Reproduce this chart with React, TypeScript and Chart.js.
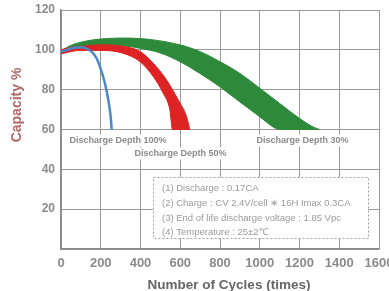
import { useEffect, useRef } from 'react';
import { Chart, registerables } from 'chart.js';

Chart.register(...registerables);

// ---- data ----
const xTickValues = [0, 200, 400, 600, 800, 1000, 1200, 1400, 1600];
const yTickValues = [20, 40, 60, 80, 100, 120];

const depth100Cycles = [0, 30, 65, 104, 135, 162, 180, 196, 221, 238, 250, 255];
const depth100Capacity = [99, 100, 101, 101.3, 100.3, 98.3, 95.5, 91.6, 83.2, 74.8, 66.4, 60];

const depth50UpperCycles = [0, 50, 95, 196, 297, 397, 464, 531, 590, 632, 648];
const depth50UpperCapacity = [100, 101.3, 101.7, 102.5, 102, 99.2, 93.3, 84.9, 74.8, 66.4, 60];
const depth50LowerCycles = [0, 95, 196, 297, 397, 464, 514, 548, 561, 648];
const depth50LowerCapacity = [98, 99.7, 99.7, 98.7, 94.1, 86.6, 78.2, 69.7, 60, 60];

const depth30UpperCycles = [0, 45, 95, 196, 330, 464, 598, 698, 799, 899, 1000, 1100, 1201, 1268, 1301];
const depth30UpperCapacity = [99.5, 102, 103.7, 105.4, 105.9, 105, 102.5, 99.2, 94.1, 88.2, 80.7, 73.1, 65.5, 61.3, 60];
const depth30LowerCycles = [0, 200, 300, 397, 503, 598, 698, 799, 899, 1000, 1067, 1100, 1301];
const depth30LowerCapacity = [99, 101.5, 102, 100.8, 98.3, 94.1, 88.2, 81.5, 73.9, 66.4, 61.3, 60, 60];

const curveLabels = [
  { text: 'Discharge Depth 100%', x: 287, y: 54.5 },
  { text: 'Discharge Depth 50%', x: 601, y: 48 },
  { text: 'Discharge Depth 30%', x: 1215, y: 54.5 },
];

const noteLines = [
  '(1) Discharge : 0.17CA',
  '(2) Charge : CV 2.4V/cell \u2217 16H Imax 0.3CA',
  '(3) End of life discharge voltage : 1.85 Vpc',
  '(4) Temperature : 25\u00b12\u2103',
];
const noteBox = { x0: 463, x1: 1545, y0: 36, y1: 5.5, textX: 508 };
const noteLineY = [30.5, 23, 15.5, 8.5];

const xTitle = 'Number of Cycles (times)';
const yTitle = 'Capacity %';

const BLUE = '#4a88c8';
const RED = '#dd2323';
const GREEN = '#2d8a3a';

function pts(xs: number[], ys: number[]) {
  return xs.map((x, i) => ({ x, y: ys[i] }));
}

const overlayPlugin = {
  id: 'overlay',
  afterDatasetsDraw(chart: any) {
    const { ctx, scales } = chart;
    const xs = scales.x;
    const ys = scales.y;
    ctx.save();
    ctx.font = 'bold 9px "Liberation Sans", Arial, sans-serif';
    ctx.textAlign = 'center';
    ctx.textBaseline = 'middle';
    for (const l of curveLabels) {
      const px = xs.getPixelForValue(l.x);
      const py = ys.getPixelForValue(l.y);
      const w = ctx.measureText(l.text).width;
      ctx.fillStyle = '#ffffff';
      ctx.fillRect(px - w / 2 - 2, py - 6, w + 4, 12);
      ctx.fillStyle = '#8a8a8a';
      ctx.fillText(l.text, px, py);
    }
    const bx0 = xs.getPixelForValue(noteBox.x0);
    const bx1 = xs.getPixelForValue(noteBox.x1);
    const by0 = ys.getPixelForValue(noteBox.y0);
    const by1 = ys.getPixelForValue(noteBox.y1);
    ctx.fillStyle = '#ffffff';
    ctx.fillRect(bx0, by0, bx1 - bx0, by1 - by0);
    ctx.setLineDash([2, 2]);
    ctx.strokeStyle = '#a0a0a0';
    ctx.lineWidth = 1;
    ctx.strokeRect(Math.round(bx0) + 0.5, Math.round(by0) + 0.5, Math.round(bx1 - bx0), Math.round(by1 - by0));
    ctx.setLineDash([]);
    ctx.font = '9.5px "Liberation Sans", Arial, sans-serif';
    ctx.textAlign = 'left';
    ctx.fillStyle = '#9a9a9a';
    const tx = xs.getPixelForValue(noteBox.textX);
    noteLines.forEach((t, i) => {
      ctx.fillText(t, tx, ys.getPixelForValue(noteLineY[i]));
    });
    ctx.restore();
  },
  afterDraw(chart: any) {
    const { ctx, chartArea } = chart;
    ctx.save();
    ctx.textBaseline = 'middle';
    ctx.textAlign = 'center';
    ctx.font = 'bold 13.5px "Liberation Sans", Arial, sans-serif';
    ctx.fillStyle = '#666666';
    ctx.fillText(xTitle, chartArea.left + 168, chartArea.bottom + 36);
    ctx.translate(17, chartArea.top + 95);
    ctx.rotate(-Math.PI / 2);
    ctx.font = 'bold 14px "Liberation Sans", Arial, sans-serif';
    ctx.fillStyle = '#b06868';
    ctx.fillText(yTitle, 0, 0);
    ctx.restore();
  },
};

export default function App() {
  const ref = useRef<HTMLCanvasElement>(null);
  useEffect(() => {
    if (!ref.current) return;
    const line = (xs: number[], ys: number[], color: string, width: number, fill: any) => ({
      data: pts(xs, ys),
      borderColor: color,
      backgroundColor: color,
      borderWidth: width,
      pointRadius: 0,
      fill,
      cubicInterpolationMode: 'monotone',
    });
    const chart = new Chart(ref.current, {
      type: 'line',
      data: {
        datasets: [
          line(depth100Cycles, depth100Capacity, BLUE, 2.5, false),
          line(depth50UpperCycles, depth50UpperCapacity, RED, 1, '+1'),
          line(depth50LowerCycles, depth50LowerCapacity, RED, 1, false),
          line(depth30UpperCycles, depth30UpperCapacity, GREEN, 1, '+1'),
          line(depth30LowerCycles, depth30LowerCapacity, GREEN, 1, false),
        ],
      },
      options: {
        responsive: false,
        animation: false,
        events: [],
        layout: { padding: { left: 0, top: 10, right: 10, bottom: 0 } },
        plugins: { legend: { display: false }, tooltip: { enabled: false }, title: { display: false } },
        scales: {
          x: {
            type: 'linear',
            min: 0,
            max: 1600,
            afterBuildTicks: (s: any) => {
              s.ticks = xTickValues.map((v) => ({ value: v }));
            },
            afterFit: (s: any) => {
              s.height = 42;
              s.paddingLeft = 0;
              s.paddingRight = 0;
            },
            ticks: {
              autoSkip: false,
              maxRotation: 0,
              padding: 7,
              color: '#8a8a8a',
              font: { family: '"Liberation Sans", Arial, sans-serif', size: 13, weight: 'bold' },
              callback: (v: any) => String(v),
            },
            grid: { color: '#9a9a9a', lineWidth: 1, drawTicks: false },
            border: { color: '#8a8a8a', width: 1.5 },
          },
          y: {
            type: 'linear',
            min: 0,
            max: 120,
            afterBuildTicks: (s: any) => {
              s.ticks = [0, ...yTickValues].map((v) => ({ value: v }));
            },
            afterFit: (s: any) => {
              s.width = 61;
              s.paddingTop = 0;
              s.paddingBottom = 0;
            },
            ticks: {
              padding: 6,
              color: '#8a8a8a',
              font: { family: '"Liberation Sans", Arial, sans-serif', size: 12, weight: 'bold' },
              callback: (v: any) => (v === 0 ? '' : String(v)),
            },
            grid: { color: '#9a9a9a', lineWidth: 1, drawTicks: false },
            border: { color: '#8a8a8a', width: 1.5 },
          },
        },
      } as any,
      plugins: [overlayPlugin],
    });
    return () => chart.destroy();
  }, []);
  return (
    <div style={{ position: 'absolute', left: 0, top: 0, width: 389, height: 291, background: '#fff' }}>
      <canvas ref={ref} width={389} height={291} style={{ display: 'block' }} />
    </div>
  );
}
